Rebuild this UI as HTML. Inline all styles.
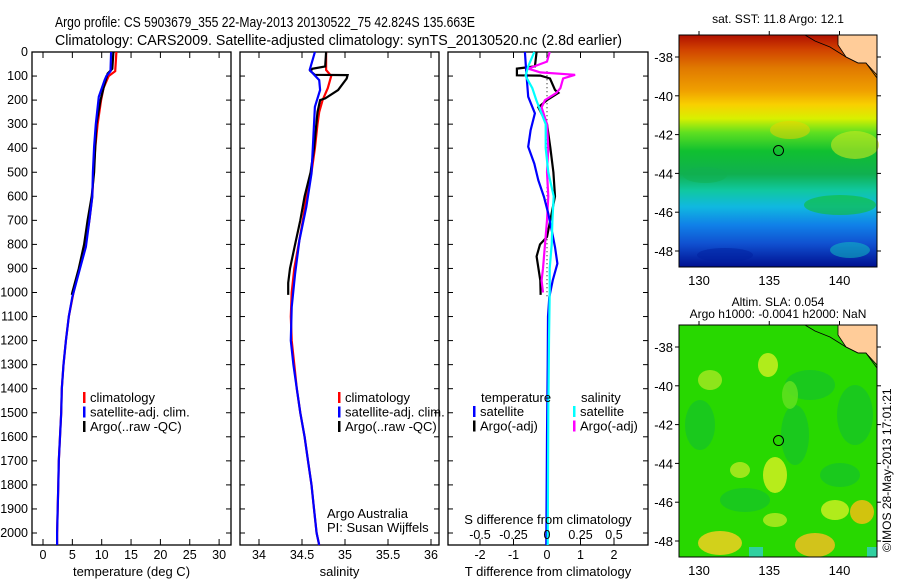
<!DOCTYPE html>
<html><head><meta charset="utf-8"><style>
body{margin:0;background:#fff;}
svg{display:block;font-family:"Liberation Sans",sans-serif;}
</style></head><body>
<svg id="fig" width="900" height="580" viewBox="0 0 900 580">
<rect width="900" height="580" fill="#fff"/>
<text x="55" y="27" font-size="15" textLength="420" lengthAdjust="spacingAndGlyphs">Argo profile: CS 5903679_355 22-May-2013 20130522_75 42.824S 135.663E</text>
<text x="55" y="45" font-size="15" textLength="567" lengthAdjust="spacingAndGlyphs">Climatology: CARS2009. Satellite-adjusted climatology: synTS_20130520.nc (2.8d earlier)</text>
<g id="plots"></g>
<g id="maps"></g>
</svg>
<script>
// ---- data (depth in m) ----
const tClimDepth = [0,80,100,150,200,300,400,500,600,700,800,900,1000,1100,1200,1300,1400,1500,1600,1700,1800,1900,2000,2050];
const tClim      = [12.5,12.3,11.2,10.3,9.9,9.3,8.9,8.6,8.4,7.9,7.2,6.2,5.2,4.4,3.9,3.5,3.2,3.1,2.9,2.7,2.6,2.5,2.4,2.4];
const tSatDepth  = [0,80,100,117,186,300,394,500,602,700,810,900,1019,1100,1200,1300,1400,1500,1600,1700,1800,1900,2000,2050];
const tSat       = [11.6,11.5,10.8,10.5,9.5,9.0,8.7,8.5,8.4,7.9,7.3,6.3,5.0,4.4,3.9,3.5,3.2,3.1,2.9,2.7,2.6,2.5,2.4,2.4];
const tArgoDepth = [0,70,90,100,150,200,300,400,500,600,700,800,900,1000,1010];
const tArgo      = [12.0,11.8,11.0,10.9,10.3,9.8,9.1,8.9,8.7,8.3,7.6,7.0,6.1,5.0,4.9];

const sClimDepth = [0,75,100,150,200,250,300,400,500,600,700,800,900,1000,1100,1200,1300,1400,1500,1600,1700,1800,1900,2000,2050];
const sClim      = [34.78,34.78,34.84,34.80,34.74,34.70,34.68,34.65,34.61,34.55,34.51,34.46,34.41,34.38,34.37,34.38,34.41,34.44,34.48,34.53,34.57,34.61,34.64,34.67,34.70];
const sSatDepth  = [0,75,117,158,228,367,505,644,783,922,1061,1200,1300,1400,1500,1600,1700,1800,1900,2000,2050];
const sSat       = [34.65,34.59,34.70,34.71,34.65,34.63,34.61,34.55,34.47,34.42,34.38,34.37,34.40,34.44,34.48,34.53,34.57,34.61,34.64,34.67,34.70];
const sArgoDepth = [0,60,70,80,95,96,110,158,193,200,250,400,500,600,700,800,900,960,1010];
const sArgo      = [34.78,34.77,34.62,34.60,34.65,35.03,35.02,34.92,34.77,34.71,34.68,34.64,34.60,34.53,34.48,34.42,34.36,34.34,34.34];

const dtSatDepth  = [0,61,117,186,255,325,394,464,533,603,672,741,811,880,950,1019,1100,1300,1600,2050];
const dtSat       = [-0.66,-0.63,-0.60,-0.56,-0.36,-0.49,-0.56,-0.38,-0.26,-0.09,0.04,0.14,0.24,0.31,0.17,0.07,0.03,0.02,0.0,-0.02];
const dtArgoDepth = [0,60,69,97,98,110,158,170,200,230,300,400,500,600,769,800,850,950,1000,1010];
const dtArgo      = [-0.31,-0.36,-0.9,-0.9,-0.2,0.09,0.24,0.34,0.0,-0.26,0.0,0.1,0.19,0.24,0.0,-0.21,-0.31,-0.2,-0.19,-0.19];
const dsSatDepth  = [0,60,100,150,200,300,400,500,600,700,800,900,1000,1200,1500,2050];
const dsSat       = [-0.095,-0.14,-0.16,-0.11,-0.08,-0.01,-0.01,0.01,0.05,0.04,0.035,0.02,0.02,0.015,0.01,0.005];
const dsArgoDepth = [0,40,69,85,95,110,150,170,200,230,300,400,500,600,700,800,900,950,1000];
const dsArgo      = [0.02,0.0,-0.14,-0.05,0.21,0.12,0.10,0.07,-0.015,-0.04,0.0,0.01,0.0,0.01,0.0,-0.015,-0.03,-0.04,-0.03];

const depthTicks = [0,100,200,300,400,500,600,700,800,900,1000,1100,1200,1300,1400,1500,1600,1700,1800,1900,2000];
const tTicks = [0,5,10,15,20,25,30];
const sTicks = [34,34.5,35,35.5,36];
const sTickLabels = ["34","34.5","35","35.5","36"];
const dtTicks = [-2,-1,0,1,2];
const dsTicks = [-0.5,-0.25,0,0.25,0.5];
const dsTickLabels = ["-0.5","-0.25","0","0.25","0.5"];

const NS="http://www.w3.org/2000/svg";
function el(tag,attrs,parent,txt){const e=document.createElementNS(NS,tag);for(const k in attrs)e.setAttribute(k,attrs[k]);if(txt!==undefined)e.textContent=txt;parent.appendChild(e);return e;}
const Y0=52, Y1=545;
const yD = d => Y0 + d*0.2405;
const plots=document.getElementById('plots');

function panel(name,x0,x1,xs,ticks,labels,title){
  const g=el('g',{},plots);
  
  
  const r=el('rect',{x:x0,y:Y0,width:x1-x0,height:Y1-Y0,fill:'none',stroke:'#000','stroke-width':1.3},g);
  
  
  depthTicks.forEach(d=>{
    el('line',{x1:x0,x2:x0+5,y1:yD(d),y2:yD(d),stroke:'#000'},g);
    el('line',{x1:x1,x2:x1-5,y1:yD(d),y2:yD(d),stroke:'#000'},g);
  });
  ticks.forEach((v,i)=>{
    const x=xs(v);
    el('line',{x1:x,x2:x,y1:Y0,y2:Y0+6,stroke:'#000'},g);
    el('line',{x1:x,x2:x,y1:Y1,y2:Y1-6,stroke:'#000'},g);
    const t=el('text',{x:x,y:559,'font-size':12.5,'text-anchor':'middle'},g,labels[i]);
    
    
  });
  const tt=el('text',{x:(x0+x1)/2,y:576,'font-size':13,'text-anchor':'middle'},g,title);
  
  
  return g;
}
function line(g,name,xs,vals,depths,color,w){
  const pts=vals.map((v,i)=>xs(v).toFixed(1)+','+yD(depths[i]).toFixed(1)).join(' ');
  const p=el('polyline',{points:pts,fill:'none',stroke:color,'stroke-width':w||2.2,'stroke-linejoin':'miter'},g);
  
  
}
function legend(g,x,y,items){
  items.forEach((it,i)=>{
    el('rect',{x:x,y:y+i*14.5-10,width:2.5,height:11,fill:it[1]},g);
    const t=el('text',{x:x+7,y:y+i*14.5,'font-size':13},g,it[0]);
    
    
  });
}

depthTicks.forEach(d=>{
  const t=el('text',{x:28,y:yD(d)+4,'font-size':12.5,'text-anchor':'end'},plots,String(d));
  
  
});

const xT = v => 43 + v*5.87;
const g1=panel('temperature-panel',32,231,xT,tTicks,tTicks.map(String),'temperature (deg C)');
line(g1,'temp-climatology',xT,tClim,tClimDepth,'#f00');
line(g1,'temp-argo',xT,tArgo,tArgoDepth,'#000');
line(g1,'temp-satellite',xT,tSat,tSatDepth,'#00f');
legend(g1,83,402,[['climatology','#f00'],['satellite-adj. clim.','#00f'],['Argo(..raw -QC)','#000']]);

const xS = v => 259 + (v-34)*86;
const g2=panel('salinity-panel',240,439,xS,sTicks,sTickLabels,'salinity');
line(g2,'sal-climatology',xS,sClim,sClimDepth,'#f00');
line(g2,'sal-argo',xS,sArgo,sArgoDepth,'#000');
line(g2,'sal-satellite',xS,sSat,sSatDepth,'#00f');
legend(g2,338,402,[['climatology','#f00'],['satellite-adj. clim.','#00f'],['Argo(..raw -QC)','#000']]);
el('text',{x:327,y:518,'font-size':13},g2,'Argo Australia');
el('text',{x:327,y:532,'font-size':13},g2,'PI: Susan Wijffels');

const xDT = v => 547 + v*33.5;
const xDS = v => 547 + v*134;
const g3=panel('difference-panel',448,648,xDT,dtTicks,dtTicks.map(String),'T difference from climatology');
el('line',{x1:547,x2:547,y1:yD(80),y2:yD(1020),stroke:'#000','stroke-dasharray':'1,3'},g3);
line(g3,'dT-argo',xDT,dtArgo,dtArgoDepth,'#000');
line(g3,'dS-argo',xDS,dsArgo,dsArgoDepth,'#f0f');
line(g3,'dT-satellite',xDT,dtSat,dtSatDepth,'#00f');
line(g3,'dS-satellite',xDS,dsSat,dsSatDepth,'#0ff');
el('text',{x:481,y:402,'font-size':13},g3,'temperature');
el('text',{x:581,y:402,'font-size':13},g3,'salinity');
legend(g3,473,416,[['satellite','#00f'],['Argo(-adj)','#000']]);
legend(g3,573,416,[['satellite','#0ff'],['Argo(-adj)','#f0f']]);
el('text',{x:548,y:524,'font-size':13,'text-anchor':'middle'},g3,'S difference from climatology');
dsTicks.forEach((v,i)=>{
  const t=el('text',{x:xDS(v),y:539,'font-size':12.5,'text-anchor':'middle'},g3,dsTickLabels[i]);
  
  
});

// ---- Maps ----
const maps=document.getElementById('maps');
const mx = lon => 699 + (lon-130)*14.05;
const lonTicks=[130,135,140];
const latTicks=[-38,-40,-42,-44,-46,-48];
function map(name,top,bottom,fillFn,title1,title2){
  const g=el('g',{},maps);
  
  
  const my = lat => top + 22 + (-38-lat)*19.4;
  fillFn(g,top,bottom);
  el('path',{d:`M838 ${top} L838 ${top+10} L846 ${top+22} L858 ${top+28} L866 ${top+28} L877 ${top+40} L877 ${top} Z`,fill:'#fc9'},g);
  el('path',{d:`M805 ${top} L815 ${top+6} L830 ${top+12} L846 ${top+22} L858 ${top+28} L866 ${top+28} L877 ${top+43}`,fill:'none',stroke:'#000','stroke-width':0.8},g);
  el('path',{d:`M838 ${top} L838 ${top+10} L846 ${top+22} L858 ${top+28} L866 ${top+28} L877 ${top+40}`,fill:'none',stroke:'#000','stroke-width':0.8},g);
  el('rect',{x:679,y:top,width:198,height:bottom-top,fill:'none',stroke:'#000'},g);
  lonTicks.forEach(l=>{
    el('line',{x1:mx(l),x2:mx(l),y1:top,y2:top-4,stroke:'#000'},g);
    el('text',{x:mx(l),y:bottom+18,'font-size':13,'text-anchor':'middle'},g,String(l));
  });
  latTicks.forEach(l=>{
    el('line',{x1:679,x2:675,y1:my(l),y2:my(l),stroke:'#000'},g);
    el('line',{x1:877,x2:881,y1:my(l),y2:my(l),stroke:'#000'},g);
    el('text',{x:673,y:my(l)+5,'font-size':13,'text-anchor':'end'},g,String(l));
  });
  const c=el('circle',{cx:mx(135.66),cy:my(-42.82),r:5,fill:'none',stroke:'#000','stroke-width':1},g);
  
  
  if(title2){
    el('text',{x:778,y:top-19,'font-size':12,'text-anchor':'middle'},g,title1);
    el('text',{x:778,y:top-7,'font-size':12,'text-anchor':'middle'},g,title2);
  } else {
    el('text',{x:778,y:top-12,'font-size':12,'text-anchor':'middle'},g,title1);
  }
}
function sstFill(g,top,bottom){
  const defs=el('defs',{},g);
  const lg=el('linearGradient',{id:'sstg',x1:0,y1:0,x2:0,y2:1},defs);
  [[0,'#b01000'],[0.06,'#d04000'],[0.14,'#e07800'],[0.24,'#f0a000'],[0.3,'#f8d000'],[0.36,'#d8f000'],[0.42,'#60e020'],[0.5,'#10c030'],[0.6,'#10b050'],[0.67,'#10c8a0'],[0.74,'#10b8e0'],[0.82,'#1080e8'],[0.9,'#1050d0'],[1,'#001090']].forEach(s=>el('stop',{offset:s[0],'stop-color':s[1]},lg));
  el('rect',{x:679,y:top,width:198,height:bottom-top,fill:'url(#sstg)'},g);
  el('ellipse',{cx:855,cy:top+110,rx:24,ry:14,fill:'#c8e820',opacity:0.6},g);
  el('ellipse',{cx:790,cy:top+95,rx:20,ry:9,fill:'#f0d000',opacity:0.5},g);
  el('ellipse',{cx:840,cy:top+170,rx:36,ry:10,fill:'#10c030',opacity:0.6},g);
  el('ellipse',{cx:705,cy:top+140,rx:22,ry:8,fill:'#10b050',opacity:0.5},g);
  el('ellipse',{cx:725,cy:top+220,rx:28,ry:7,fill:'#0020a0',opacity:0.5},g);
  el('ellipse',{cx:850,cy:top+215,rx:20,ry:8,fill:'#10c8c0',opacity:0.5},g);
}
function slaFill(g,top,bottom){
  el('rect',{x:679,y:top,width:198,height:bottom-top,fill:'#28d800'},g);
  const dark=[[810,top+60,25,15],[795,top+110,14,30],[855,top+90,18,30],[745,top+175,25,12],[840,top+150,20,12],[700,top+100,15,25]];
  dark.forEach(b=>el('ellipse',{cx:b[0],cy:b[1],rx:b[2],ry:b[3],fill:'#10c030',opacity:0.6},g));
  const blobs=[[768,top+40,10,12,'#c8f020'],[710,top+55,12,10,'#a0e820'],[790,top+70,8,14,'#60e020'],[775,top+150,12,18,'#d0f020'],[740,top+145,10,8,'#b0ea20'],[835,top+185,14,10,'#c8f020'],[862,top+187,12,12,'#f0c010'],[720,top+218,22,12,'#f0d020'],[815,top+220,20,12,'#f0c020'],[775,top+195,12,7,'#b0ea20']];
  blobs.forEach(b=>el('ellipse',{cx:b[0],cy:b[1],rx:b[2],ry:b[3],fill:b[4],opacity:0.85},g));
  el('rect',{x:749,y:bottom-10,width:14,height:10,fill:'#30d0a0'},g);
  el('rect',{x:867,y:bottom-10,width:10,height:10,fill:'#30d0a0'},g);
}
map('sst-map',35,267,sstFill,'sat. SST: 11.8 Argo: 12.1');
map('sla-map',325,557,slaFill,'Altim. SLA: 0.054','Argo h1000: -0.0041 h2000: NaN');
const ts=el('text',{x:0,y:0,'font-size':12,transform:'translate(891,552) rotate(-90)'},maps,'©IMOS 28-May-2013 17:01:21');


</script>
</body></html>
